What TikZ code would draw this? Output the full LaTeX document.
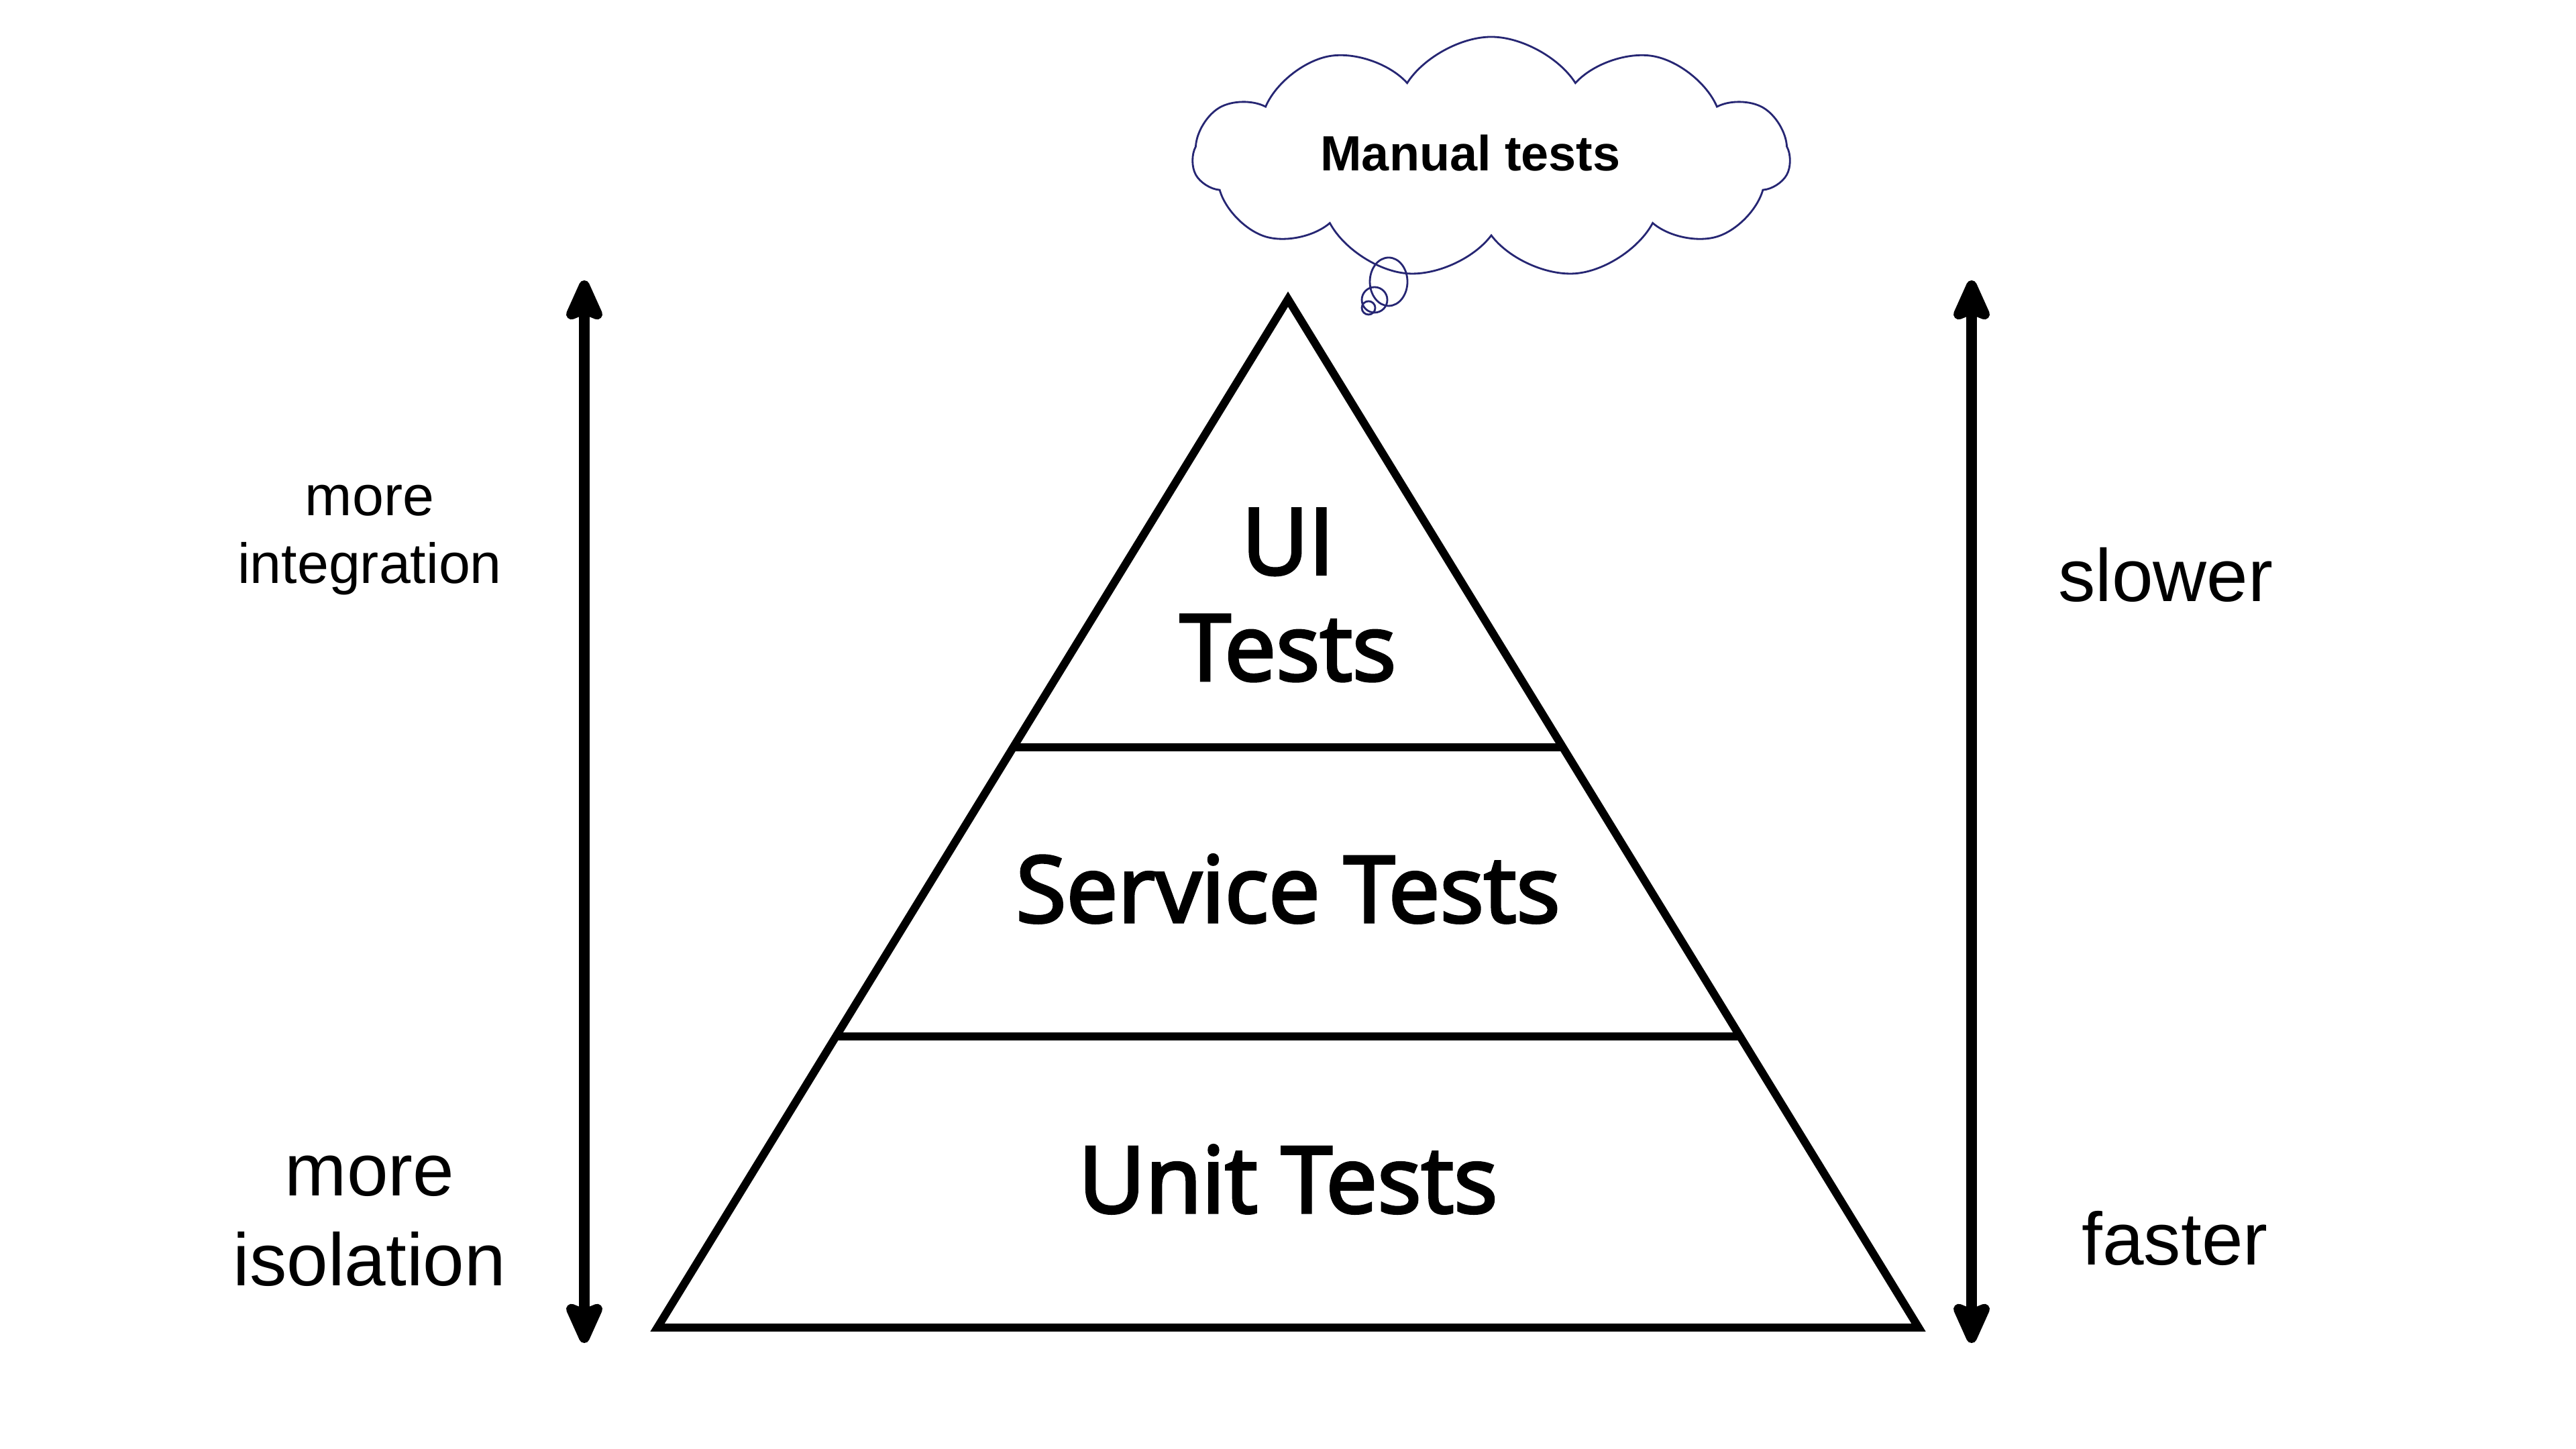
\documentclass[tikz,border=0pt]{standalone}
\usepackage{fontspec}
\setmainfont{Liberation Sans}
\newfontfamily\pyrfont[FakeBold=3]{Open Sans}
\usepackage{tikz}
\usetikzlibrary{positioning,arrows.meta,calc,shapes.symbols}
\definecolor{cloudnavy}{RGB}{38,38,115}

\begin{document}
\begin{tikzpicture}[
  layer/.style={draw, line width=3.4pt, line join=miter},
  tiertext/.style={align=center, font=\pyrfont\fontsize{39}{45}\selectfont},
  sidesmall/.style={align=center, font=\fontsize{24}{28.5}\selectfont},
  sidebig/.style={align=center, font=\fontsize{31.5}{38}\selectfont},
  arr/.style={{Stealth[length=7.5mm,width=6.5mm,inset=1.2mm,round]}-{Stealth[length=7.5mm,width=6.5mm,inset=1.2mm,round]}, line width=4.8pt},
  thought/.style={cloud, cloud puffs=11, cloud puff arc=115, draw=cloudnavy,
    line width=0.8pt, minimum width=8.9cm, minimum height=3.6cm, inner sep=0pt},
  bubble/.style={draw=cloudnavy, line width=0.8pt}
]
  \useasboundingbox[fill=white] (0,0) rectangle (38.4,21.6);

  % --- Pyramid ---
  \coordinate (apex) at (19.2,17.14);
  \coordinate (bl)   at (9.8,1.81);
  \coordinate (br)   at (28.6,1.81);
  \draw[layer] (apex) -- (bl) -- (br) -- cycle;
  \draw[layer] ($(apex)!0.4357!(bl)$) -- ($(apex)!0.4357!(br)$);
  \draw[layer] ($(apex)!0.7169!(bl)$) -- ($(apex)!0.7169!(br)$);

  \node[tiertext] (ui)      at (19.2,12.73) {UI\\Tests};
  \node[tiertext] (service) at (19.2,8.35)  {Service Tests};
  \node[tiertext] (unit)    at (19.2,4.02)  {Unit Tests};

  % --- Side arrows ---
  \coordinate (ltop) at (8.71,17.42);
  \coordinate (lbot) at (8.71,1.58);
  \coordinate (rtop) at (29.39,17.42);
  \coordinate (rbot) at (29.39,1.58);
  \draw[arr] (lbot) -- (ltop);
  \draw[arr] (rbot) -- (rtop);

  \node[sidesmall] (integ)  at (5.51,13.55) {more\\integration};
  \node[sidebig]   (isol)   at (5.51,3.40)  {more\\isolation};
  \node[sidebig]   (slower) at (32.28,13.03) {slower};
  \node[sidebig]   (faster) at (32.42,3.14)  {faster};

  % --- Thought cloud ---
  \node[thought] (cloud) at (22.23,19.25) {};
  \node[font=\bfseries\fontsize{21}{25}\selectfont] (manual) at (21.92,19.32) {Manual tests};
  \draw[bubble] (20.70,17.40) ellipse [x radius=0.28, y radius=0.36];
  \draw[bubble] (20.49,17.13) circle [radius=0.19];
  \draw[bubble] (20.40,17.01) circle [radius=0.10];
\end{tikzpicture}
\end{document}
